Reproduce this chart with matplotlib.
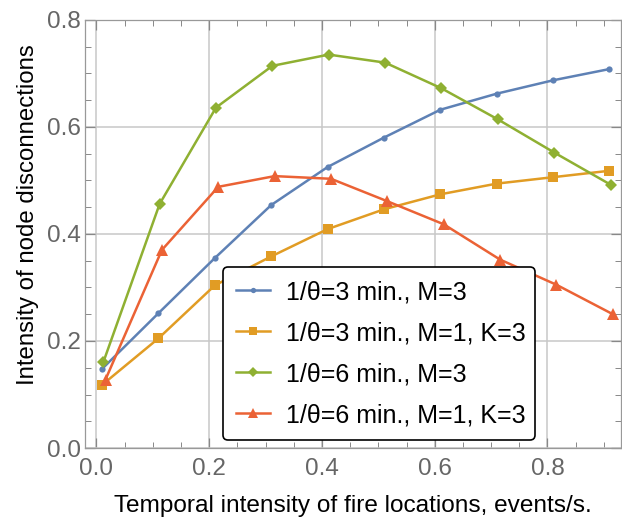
import matplotlib
matplotlib.use("Agg")
import matplotlib.pyplot as plt
from matplotlib.ticker import MultipleLocator

plt.rcParams['font.family'] = ['Liberation Sans', 'DejaVu Sans']

labels = ["1/θ=3 min., M=3", "1/θ=3 min., M=1, K=3",
          "1/θ=6 min., M=3", "1/θ=6 min., M=1, K=3"]
x_blue = [0.01, 0.11, 0.21, 0.31, 0.41, 0.51, 0.61, 0.71, 0.81, 0.91]
y_blue = [0.148, 0.252, 0.355, 0.454, 0.525, 0.580, 0.632, 0.662, 0.687, 0.708]
x_orange = [0.01, 0.11, 0.21, 0.31, 0.41, 0.51, 0.61, 0.71, 0.81, 0.91]
y_orange = [0.118, 0.205, 0.304, 0.358, 0.409, 0.446, 0.474, 0.494, 0.506, 0.518]
x_green = [0.012, 0.112, 0.212, 0.312, 0.412, 0.512, 0.612, 0.712, 0.812, 0.912]
y_green = [0.160, 0.456, 0.636, 0.714, 0.735, 0.720, 0.672, 0.614, 0.552, 0.492]
x_red = [0.016, 0.116, 0.216, 0.316, 0.416, 0.516, 0.616, 0.716, 0.816, 0.916]
y_red = [0.128, 0.370, 0.488, 0.508, 0.503, 0.461, 0.418, 0.352, 0.305, 0.250]

colors = ['#5E81B5', '#E19C24', '#8FB032', '#EB6235']
markers = ['o', 's', 'D', '^']
msizes = [4.5, 6.5, 6.5, 8.5]

fig = plt.figure(figsize=(6.22, 5.21), dpi=100)
ax = fig.add_axes([0.137, 0.140, 0.861, 0.822])

series = [(x_blue, y_blue), (x_orange, y_orange), (x_green, y_green), (x_red, y_red)]
for (xs, ys), c, m, ms, lab in zip(series, colors, markers, msizes, labels):
    ax.plot(xs, ys, color=c, marker=m, markersize=ms, lw=1.8, label=lab,
            markeredgewidth=0, zorder=3)

ax.set_xlim(-0.02, 0.93)
ax.set_ylim(0, 0.8)
ax.xaxis.set_minor_locator(MultipleLocator(0.05))
ax.yaxis.set_minor_locator(MultipleLocator(0.05))
ax.set_xticks([0.0, 0.2, 0.4, 0.6, 0.8])
ax.set_xticklabels(['0.0', '0.2', '0.4', '0.6', '0.8'])
ax.set_yticks([0.0, 0.2, 0.4, 0.6, 0.8])
ax.set_yticklabels(['0.0', '0.2', '0.4', '0.6', '0.8'])
ax.grid(True, which='major', color='#c8c8c8', lw=1.1, zorder=0)
ax.tick_params(which='both', direction='in', top=True, right=True,
               color='#888888', labelcolor='#666666', labelsize=17.5)
ax.tick_params(which='major', length=7, width=0.9, pad=3)
ax.tick_params(axis='x', which='major', pad=7)
ax.tick_params(which='minor', length=4, width=0.7)
for s in ax.spines.values():
    s.set_color('#999999')
    s.set_linewidth(0.9)

ax.set_xlabel('Temporal intensity of fire locations, events/s.', fontsize=17.6)
ax.set_ylabel('Intensity of node disconnections', fontsize=17.3)
ax.xaxis.set_label_coords(0.5, -0.11)
ax.yaxis.set_label_coords(-0.0858, 0.544)

leg = ax.legend(loc='lower left', bbox_to_anchor=(0.2575, 0.0187, 0.582, 0.40),
                mode='expand', fontsize=18, frameon=True, fancybox=True,
                edgecolor='black', framealpha=1, handlelength=1.36,
                borderpad=0.52, labelspacing=0.68, handletextpad=0.64,
                borderaxespad=0, markerscale=0.85)
leg.get_frame().set_linewidth(1.2)

fig.savefig('out.png', dpi=100)
